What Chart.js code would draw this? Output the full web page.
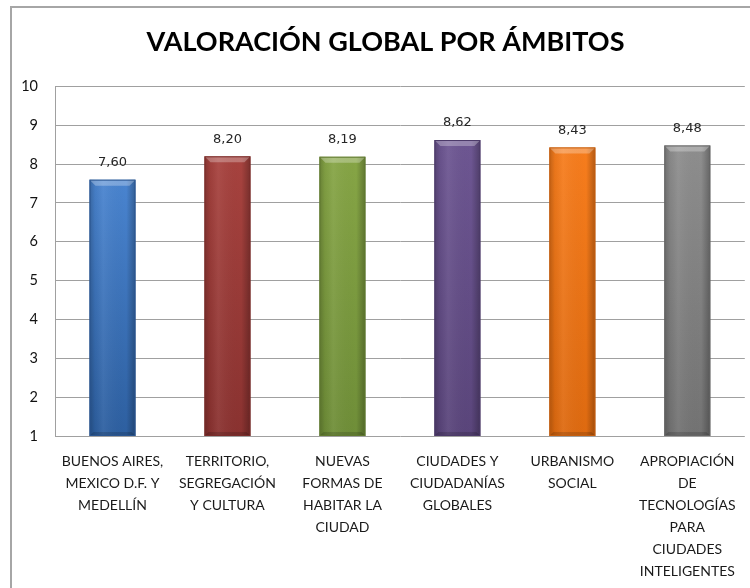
<!DOCTYPE html>
<html><head><meta charset="utf-8">
<script src="https://cdn.jsdelivr.net/npm/chart.js@4/dist/chart.umd.min.js"></script>
<style>html,body{margin:0;padding:0;background:#fff}#wrap{width:750px;height:588px;position:relative}</style>
</head><body><div id="wrap"><canvas id="c" width="750" height="588"></canvas></div>
<script>
const title = "VALORACIÓN GLOBAL POR ÁMBITOS";
const categories = [
  ["BUENOS AIRES,", "MEXICO D.F. Y", "MEDELLÍN"],
  ["TERRITORIO,", "SEGREGACIÓN", "Y CULTURA"],
  ["NUEVAS", "FORMAS DE", "HABITAR LA", "CIUDAD"],
  ["CIUDADES Y", "CIUDADANÍAS", "GLOBALES"],
  ["URBANISMO", "SOCIAL"],
  ["APROPIACIÓN", "DE", "TECNOLOGÍAS", "PARA", "CIUDADES", "INTELIGENTES"]
];
const values = [7.60, 8.20, 8.19, 8.62, 8.43, 8.48];
const topColors = ["#4d89d6", "#a8433f", "#87a646", "#6d5692", "#f77d1d", "#8e8e8e"];
const bottomColors = ["#2d5fa0", "#8a3230", "#6f8e38", "#5a457b", "#de6a10", "#737373"];
const borderColors = ["#2a5590", "#7a2c2a", "#60792f", "#4c3a69", "#c55e0e", "#656565"];
const yMin = 1, yMax = 10;

const framePlugin = {
  id: 'frame',
  afterLayout(chart) {
    if (chart.titleBlock) { chart.titleBlock.left = 26; chart.titleBlock.right = 745; }
  },
  beforeDraw(chart) {
    const ctx = chart.ctx;
    ctx.save();
    ctx.fillStyle = '#fff';
    ctx.fillRect(0, 0, chart.width, chart.height);
    ctx.strokeStyle = '#a6a6a6';
    ctx.lineWidth = 2;
    ctx.strokeRect(11, 7, 800, 700);
    ctx.restore();
  }
};

const barShade = {
  id: 'barShade',
  afterDatasetsDraw(chart) {
    const ctx = chart.ctx;
    const meta = chart.getDatasetMeta(0);
    const bottom = chart.chartArea.bottom;
    ctx.save();
    meta.data.forEach((el, i) => {
      const {x, y, width} = el.getProps(['x', 'y', 'width'], true);
      const base = bottom;
      const l = x - width / 2, r = x + width / 2;
      const g = ctx.createLinearGradient(l, 0, r, 0);
      g.addColorStop(0, 'rgba(0,0,0,0.22)');
      g.addColorStop(0.12, 'rgba(0,0,0,0.05)');
      g.addColorStop(0.3, 'rgba(255,255,255,0.06)');
      g.addColorStop(0.8, 'rgba(0,0,0,0.0)');
      g.addColorStop(1, 'rgba(0,0,0,0.28)');
      ctx.fillStyle = g;
      ctx.fillRect(l, y, width, base - y);
      const b = 6;
      ctx.beginPath();
      ctx.moveTo(l, y); ctx.lineTo(r, y); ctx.lineTo(r - b, y + b); ctx.lineTo(l + b, y + b); ctx.closePath();
      ctx.fillStyle = 'rgba(255,255,255,0.28)';
      ctx.fill();
      ctx.beginPath();
      ctx.moveTo(l, base); ctx.lineTo(r, base); ctx.lineTo(r - 4, base - 4); ctx.lineTo(l + 4, base - 4); ctx.closePath();
      ctx.fillStyle = 'rgba(0,0,0,0.15)';
      ctx.fill();
      ctx.strokeStyle = borderColors[i];
      ctx.lineWidth = 1;
      ctx.strokeRect(l + 0.5, y + 0.5, width - 1, base - y - 1);
    });
    ctx.font = '13px "DejaVu Sans", sans-serif';
    ctx.fillStyle = '#262626';
    ctx.textAlign = 'center';
    ctx.textBaseline = 'middle';
    meta.data.forEach((el, i) => {
      const v = chart.data.datasets[0].data[i];
      ctx.fillText(v.toFixed(2).replace('.', ','), el.x, el.y - 17);
    });
    ctx.restore();
  }
};

new Chart(document.getElementById('c'), {
  type: 'bar',
  data: {
    labels: categories,
    datasets: [{
      data: values,
      backgroundColor: (c) => {
        const ca = c.chart.chartArea;
        const i = c.dataIndex;
        if (!ca || i === undefined) return topColors[i || 0];
        const g = c.chart.ctx.createLinearGradient(0, ca.top + 60, 0, ca.bottom);
        g.addColorStop(0, topColors[i]);
        g.addColorStop(1, bottomColors[i]);
        return g;
      },
      borderWidth: 0,
      barPercentage: 0.4,
      categoryPercentage: 1.0
    }]
  },
  options: {
    responsive: false,
    animation: false,
    layout: { padding: { left: 12, right: 5, top: 0, bottom: 0 } },
    plugins: {
      legend: { display: false },
      tooltip: { enabled: false },
      title: {
        display: true,
        text: title,
        color: '#000',
        font: { family: 'Lato, sans-serif', size: 27, weight: 'bold' },
        padding: { top: 26, bottom: 28 }
      }
    },
    scales: {
      x: {
        grid: { display: false, drawTicks: false },
        border: { display: false },
        ticks: {
          color: '#1a1a1a',
          font: { family: 'Lato, sans-serif', size: 14, lineHeight: 1.58 },
          padding: 14,
          maxRotation: 0,
          autoSkip: false
        },
        afterFit(s) { s.height = 152; }
      },
      y: {
        min: yMin, max: yMax,
        grid: { color: '#a0a0a0', lineWidth: 1, drawTicks: false },
        border: { display: true, color: '#a0a0a0', width: 1 },
        ticks: {
          stepSize: 1,
          color: '#111',
          font: { family: 'Lato, sans-serif', size: 14.5 },
          padding: 17
        },
        afterFit(s) { s.width = 43; }
      }
    }
  },
  plugins: [framePlugin, barShade]
});
</script>
</body></html>
